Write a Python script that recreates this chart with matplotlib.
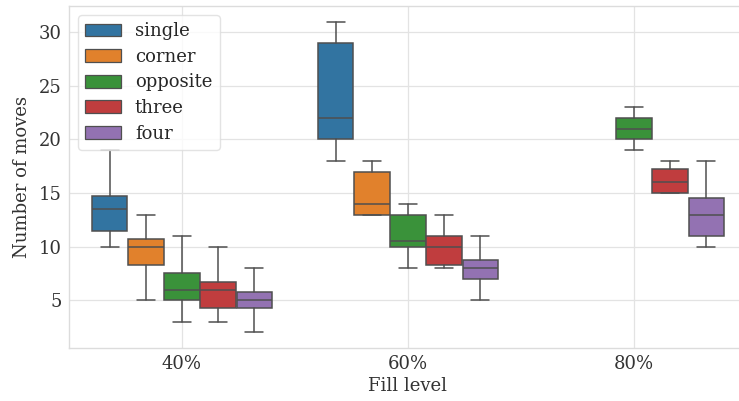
import matplotlib
matplotlib.use("Agg")
import matplotlib.pyplot as plt
import seaborn as sns
from matplotlib.patches import Patch

fill_levels = ["40%", "60%", "80%"]
layouts = ["single", "corner", "opposite", "three", "four"]

# box statistics per layout, one entry per fill level (None = no runs)
whislo = {
    "single":   [10, 18, None],
    "corner":   [5, 13, None],
    "opposite": [3, 8, 19],
    "three":    [3, 8, 15],
    "four":     [2, 5, 10],
}
q1 = {
    "single":   [11.5, 20, None],
    "corner":   [8.25, 13, None],
    "opposite": [5, 10, 20],
    "three":    [4.25, 8.25, 15],
    "four":     [4.25, 7, 11],
}
med = {
    "single":   [13.5, 22, None],
    "corner":   [10, 14, None],
    "opposite": [6, 10.5, 21],
    "three":    [6, 10, 16],
    "four":     [5, 8, 13],
}
q3 = {
    "single":   [14.75, 29, None],
    "corner":   [10.75, 17, None],
    "opposite": [7.5, 13, 22],
    "three":    [6.75, 11, 17.25],
    "four":     [5.75, 8.75, 14.5],
}
whishi = {
    "single":   [19, 31, None],
    "corner":   [13, 18, None],
    "opposite": [11, 14, 23],
    "three":    [10, 13, 18],
    "four":     [8, 11, 18],
}

colors = ["#3274a1", "#e1812c", "#3a923a", "#c03d3e", "#9372b2"]
line_color = "#4f4f4f"
lw = 1.1

sns.set_style("whitegrid", {"grid.color": "#e3e3e3", "axes.edgecolor": "#dcdcdc"})
plt.rcParams["font.family"] = ["DejaVu Serif"]

fig = plt.figure(figsize=(7.39, 4.01), dpi=100)
ax = fig.add_axes([69 / 739, 53 / 401, 678 / 739, 342 / 401])

n = len(layouts)
step = 0.8 / n
for j, name in enumerate(layouts):
    stats = []
    pos = []
    for i in range(len(fill_levels)):
        if med[name][i] is None:
            continue
        stats.append(dict(med=med[name][i], q1=q1[name][i], q3=q3[name][i],
                          whislo=whislo[name][i], whishi=whishi[name][i], fliers=[]))
        pos.append(i - 0.4 + step * (j + 0.5))
    ax.bxp(stats, positions=pos, widths=step * 0.98, patch_artist=True,
           showfliers=False, manage_ticks=False,
           boxprops=dict(facecolor=colors[j], edgecolor=line_color, linewidth=lw),
           medianprops=dict(color=line_color, linewidth=lw),
           whiskerprops=dict(color=line_color, linewidth=lw),
           capprops=dict(color=line_color, linewidth=lw))

ax.set_xlim(-0.5, 2.5)
ax.set_ylim(0.55, 32.45)
ax.set_xticks(range(len(fill_levels)))
ax.set_xticklabels(fill_levels)
ax.set_yticks([5, 10, 15, 20, 25, 30])
ax.xaxis.grid(False)
ax.grid(linewidth=0.9)
for s in ax.spines.values():
    s.set_linewidth(1.0)
ax.tick_params(labelsize=13, colors="#333333", length=0, pad=5)
ax.set_xlabel("Fill level", fontsize=13, color="#333333", labelpad=3)
ax.set_ylabel("Number of moves", fontsize=13, color="#333333", labelpad=6)

handles = [Patch(facecolor=c, edgecolor=line_color, linewidth=0.9) for c in colors]
ax.legend(handles, layouts, loc="upper left", fontsize=13, handlelength=2.0,
          handleheight=0.72, labelspacing=0.42, handletextpad=0.75,
          borderaxespad=0.5, edgecolor="#dcdcdc")

fig.savefig("out.png", dpi=100)
